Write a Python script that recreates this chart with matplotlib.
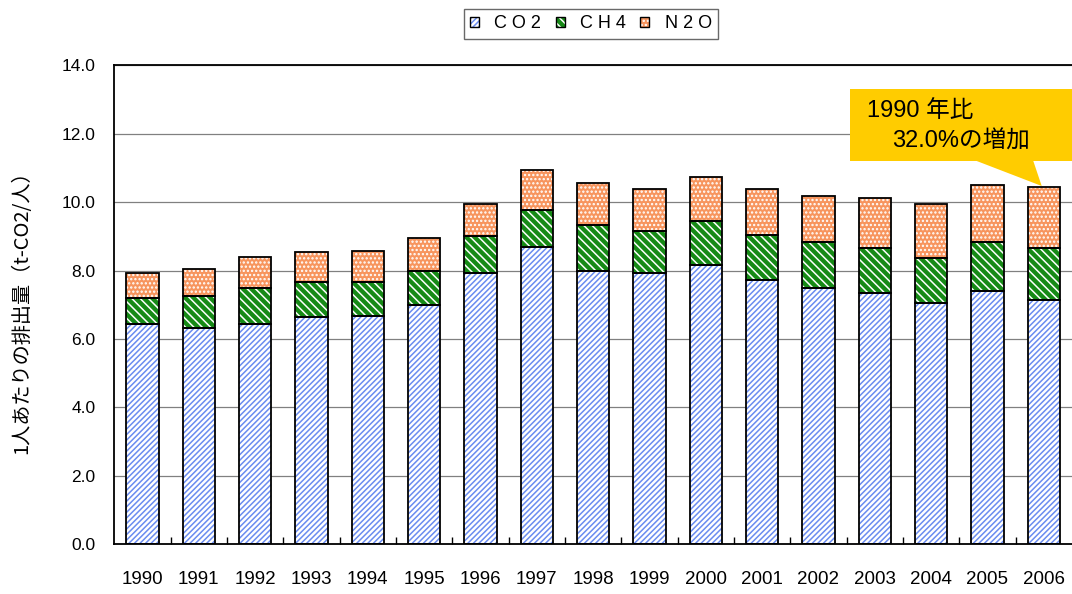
import matplotlib
matplotlib.use("Agg")
import matplotlib.pyplot as plt
import numpy as np
from matplotlib.patches import Patch, Polygon

plt.rcParams['hatch.linewidth'] = 1.1

years = ['1990', '1991', '1992', '1993', '1994', '1995', '1996', '1997', '1998',
         '1999', '2000', '2001', '2002', '2003', '2004', '2005', '2006']
co2 = [6.44, 6.32, 6.44, 6.65, 6.66, 6.98, 7.93, 8.70, 7.99, 7.94, 8.16, 7.72, 7.49, 7.33, 7.04, 7.39, 7.15]
ch4 = [0.77, 0.95, 1.05, 1.01, 1.00, 1.00, 1.07, 1.06, 1.34, 1.22, 1.28, 1.33, 1.34, 1.33, 1.34, 1.44, 1.51]
n2o = [0.72, 0.78, 0.90, 0.89, 0.91, 0.97, 0.94, 1.18, 1.22, 1.22, 1.28, 1.33, 1.34, 1.45, 1.56, 1.67, 1.78]
series_names = ['C O 2', 'C H 4', 'N 2 O']
yticks = [0, 2, 4, 6, 8, 10, 12, 14]
ylabel = '1人あたりの排出量（t-CO2/人）'
callout1 = '1990 年比'
callout2 = '32.0%の増加'

LAT = ['Liberation Sans', 'Noto Sans CJK JP', 'DejaVu Sans']
JP = ['Noto Sans CJK JP', 'DejaVu Sans']

W, H = 1072, 594
fig = plt.figure(figsize=(W / 100, H / 100), dpi=100)
ax = fig.add_axes([114.3 / W, (H - 544.2) / H, (W - 114.3) / W, (544.2 - 65.3) / H])

x = np.arange(len(years))
bw = 0.57
styles = [
    dict(face='#ffffff', hatch='//////', hcol='#6a8cf0'),
    dict(face='#168a16', hatch='\\\\\\\\', hcol='#ffffff'),
    dict(face='#f7955e', hatch='....', hcol='#ffffff'),
]
bottom = np.zeros(len(years))
handles = []
for vals, st in zip([co2, ch4, n2o], styles):
    v = np.array(vals)
    ax.bar(x, v, bw, bottom=bottom, color=st['face'], edgecolor=st['hcol'],
           hatch=st['hatch'], linewidth=0, zorder=2)
    ax.bar(x, v, bw, bottom=bottom, facecolor='none', edgecolor='black',
           linewidth=1.3, zorder=3)
    bottom = bottom + v
    handles.append((Patch(facecolor=st['face'], edgecolor=st['hcol'], hatch=st['hatch'], linewidth=0),
                    Patch(facecolor='none', edgecolor='black', linewidth=1.0)))

ax.set_xlim(-0.5, len(years) - 0.5)
ax.set_ylim(0, 14)
ax.set_yticks(yticks)
ax.set_yticklabels([f'{t:.1f}' for t in yticks], family=LAT, fontsize=12.5)
ax.tick_params(axis='y', length=0, pad=13.5)
ax.set_xticks(x)
ax.set_xticklabels(years, family=LAT, fontsize=13.5)
ax.tick_params(axis='x', which='major', length=0, pad=19)
ax.set_xticks(np.arange(0.5, len(years) - 0.5, 1), minor=True)
ax.tick_params(axis='x', which='minor', direction='in', length=5, width=1, color='black')
ax.yaxis.grid(True, color='#808080', linewidth=0.9, zorder=0)
ax.set_axisbelow(True)
for s in ['left', 'bottom', 'top']:
    ax.spines[s].set_color('black')
    ax.spines[s].set_linewidth(1.3)
ax.spines['right'].set_visible(False)

fig.text(22 / W, 1 - 307 / H, ylabel, rotation=90, ha='center', va='center',
         family=JP, fontsize=14.5)

leg = fig.legend(handles, series_names, loc='center', bbox_to_anchor=(591 / W, 1 - 24 / H),
                 ncol=3, frameon=True, fancybox=False, prop={'family': LAT, 'size': 13},
                 handlelength=0.5, handleheight=0.5, handletextpad=0.85, columnspacing=0.8,
                 borderpad=0.35, edgecolor='#444444')
leg.get_frame().set_linewidth(1.0)

pts = [(850, 89), (1072, 89), (1072, 161), (1033.3, 161), (1041.7, 186), (976.7, 161), (850, 161)]
poly = Polygon([(px / W, 1 - py / H) for px, py in pts], closed=True, facecolor='#FFCC00',
               edgecolor='none', transform=fig.transFigure, zorder=10)
fig.patches.append(poly)
fig.text(866.7 / W, 1 - 116.7 / H, callout1, ha='left', va='baseline', family=LAT, fontsize=17, zorder=11)
fig.text(891.7 / W, 1 - 148 / H, callout2, ha='left', va='baseline', family=LAT, fontsize=17, zorder=11)

fig.savefig('out.png', dpi=100)
